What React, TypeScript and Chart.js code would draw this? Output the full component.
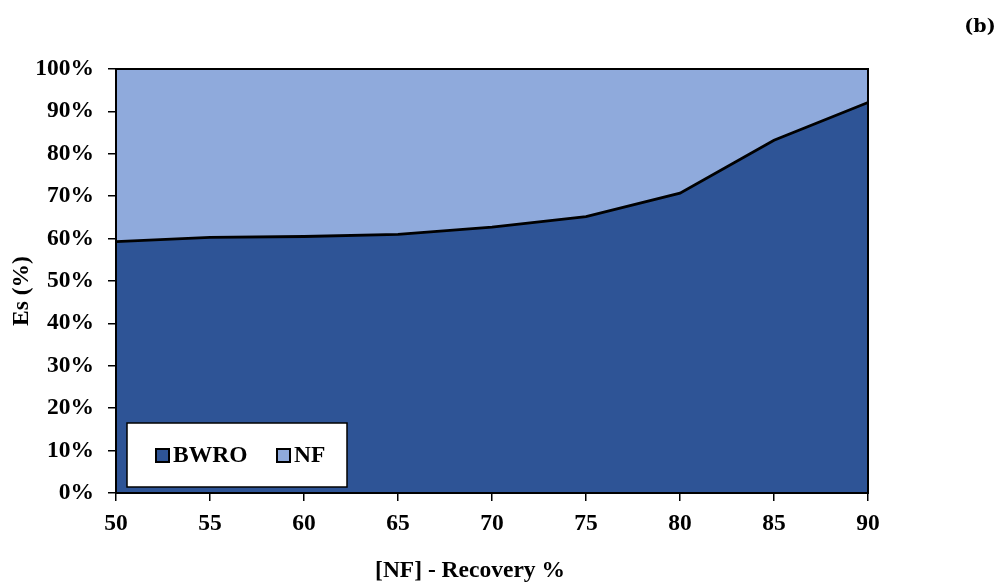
import React, { useEffect, useRef } from "react";
import { Chart, registerables } from "chart.js";

Chart.register(...registerables);

const categories = ["50", "55", "60", "65", "70", "75", "80", "85", "90"];
const bwro = [59.3, 60.3, 60.5, 61.0, 62.7, 65.2, 70.7, 83.2, 92.1];
const nf = bwro.map((v) => Math.round((100 - v) * 10) / 10);
const yTicks = [0, 10, 20, 30, 40, 50, 60, 70, 80, 90, 100];

const DARK = "#2E5496";
const LIGHT = "#8FAADC";
const FONT = "'Liberation Serif', 'Times New Roman', serif";
const FS = 23.5;

const extras = {
  id: "extras",
  afterDatasetsDraw(chart: any) {
    const { ctx, chartArea } = chart;
    const { left, right, top, bottom } = chartArea;
    ctx.save();
    // plot border
    ctx.strokeStyle = "#000";
    ctx.lineWidth = 2;
    ctx.strokeRect(left, top, right - left, bottom - top);
    // legend box
    const lx = 127, ly = 423, lw = 220, lh = 64;
    ctx.fillStyle = "#fff";
    ctx.fillRect(lx, ly, lw, lh);
    ctx.lineWidth = 1.5;
    ctx.strokeRect(lx, ly, lw, lh);
    const items = [
      { x: 156, label: "BWRO", color: DARK },
      { x: 277, label: "NF", color: LIGHT },
    ];
    ctx.font = `bold ${FS}px ${FONT}`;
    ctx.textBaseline = "middle";
    ctx.textAlign = "left";
    for (const it of items) {
      ctx.fillStyle = it.color;
      ctx.fillRect(it.x, 449, 13, 13);
      ctx.lineWidth = 2;
      ctx.strokeStyle = "#000";
      ctx.strokeRect(it.x, 449, 13, 13);
      ctx.fillStyle = "#000";
      ctx.fillText(it.label, it.x + 17, 456);
    }
    // axis titles
    ctx.font = `bold ${FS}px ${FONT}`;
    ctx.textAlign = "center";
    ctx.fillText("[NF] - Recovery %", 470, 571);
    ctx.save();
    ctx.translate(22, 291);
    ctx.rotate(-Math.PI / 2);
    ctx.fillText("Es (%)", 0, 0);
    ctx.restore();
    // panel label
    ctx.font = `bold 19px 'DejaVu Serif', serif`;
    ctx.textAlign = "center";
    ctx.fillText("(b)", 980, 27);
    ctx.restore();
  },
};

export default function App() {
  const ref = useRef<HTMLCanvasElement>(null);
  useEffect(() => {
    document.body.style.margin = "0";
    const chart = new Chart(ref.current!, {
      type: "line",
      data: {
        labels: categories,
        datasets: [
          {
            label: "BWRO",
            data: bwro,
            backgroundColor: DARK,
            borderColor: "#000",
            borderWidth: 2.8,
            fill: "origin",
            pointRadius: 0,
            tension: 0,
          },
          {
            label: "NF",
            data: nf,
            backgroundColor: LIGHT,
            borderColor: "#000",
            borderWidth: 0,
            fill: "-1",
            pointRadius: 0,
            tension: 0,
          },
        ],
      },
      options: {
        animation: false,
        responsive: false,
        layout: { padding: { left: 0, right: 129, top: 69, bottom: 0 } },
        plugins: { legend: { display: false }, tooltip: { enabled: false } },
        scales: {
          x: {
            offset: false,
            grid: { drawOnChartArea: false, drawTicks: true, tickLength: 8, color: "#000", lineWidth: 1.5 },
            border: { display: false },
            ticks: {
              color: "#000",
              font: { family: FONT, size: FS, weight: "bold" },
              padding: 9,
              maxRotation: 0,
            },
            afterFit(scale: any) {
              scale.height = 90;
            },
          },
          y: {
            stacked: true,
            min: 0,
            max: 100,
            afterBuildTicks(scale: any) {
              scale.ticks = yTicks.map((v) => ({ value: v }));
            },
            grid: { drawOnChartArea: false, drawTicks: true, tickLength: 8, color: "#000", lineWidth: 1.5 },
            border: { display: false },
            ticks: {
              color: "#000",
              font: { family: FONT, size: FS, weight: "bold" },
              padding: 14,
              callback: (v: any) => v + "%",
            },
            afterFit(scale: any) {
              scale.width = 116;
            },
          },
        },
      },
      plugins: [extras],
    });
    return () => chart.destroy();
  }, []);
  return (
    <div style={{ width: 997, height: 583 }}>
      <canvas ref={ref} width={997} height={583} style={{ display: "block" }} />
    </div>
  );
}
